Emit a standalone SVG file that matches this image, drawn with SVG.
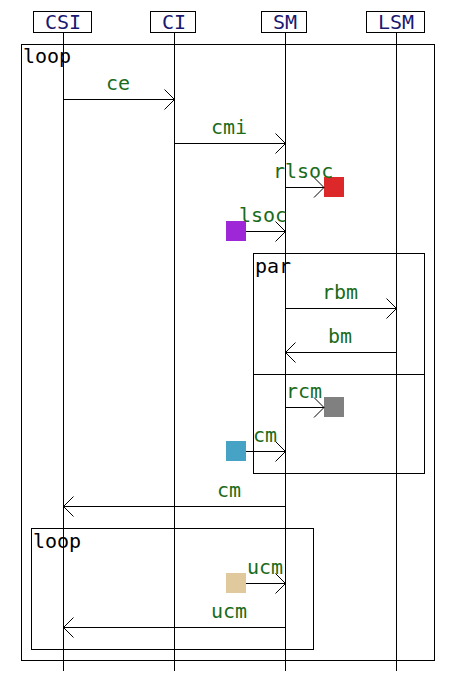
<svg xmlns="http://www.w3.org/2000/svg" width="455" height="682" viewBox="0 0 455 682">
<defs>
<marker id="open" viewBox="0 0 12 22" refX="11" refY="11" markerWidth="12" markerHeight="22" markerUnits="userSpaceOnUse" orient="auto">
<path d="M1,1 L11,11 L1,21" fill="none" stroke="#000" stroke-width="1"/>
</marker>
<style>
.actor rect{fill:#fff;stroke:#000;stroke-width:1}
.actor text{font-family:"DejaVu Sans Mono",monospace;font-size:20px;fill:#191970;text-anchor:middle}
.life{stroke:#000;stroke-width:1}
.frame{fill:none;stroke:#000;stroke-width:1}
.ftxt{font-family:"DejaVu Sans Mono",monospace;font-size:20px;fill:#000}
.msg{stroke:#000;stroke-width:1;fill:none;marker-end:url(#open)}
.lbl{font-family:"DejaVu Sans Mono",monospace;font-size:20px;fill:#1a6b1a}
.mid{text-anchor:middle}
</style>
</defs>
<rect width="455" height="682" fill="#fff"/>
<g id="lifelines">
<line class="life" x1="63.5" y1="32" x2="63.5" y2="671"/>
<line class="life" x1="174.5" y1="32" x2="174.5" y2="671"/>
<line class="life" x1="285.5" y1="32" x2="285.5" y2="671"/>
<line class="life" x1="396.5" y1="32" x2="396.5" y2="671"/>
</g>
<g id="actor-CSI" class="actor"><rect x="33.5" y="11.5" width="58" height="21"/><text x="63" y="29">CSI</text></g>
<g id="actor-CI" class="actor"><rect x="150.5" y="11.5" width="45" height="21"/><text x="174" y="29">CI</text></g>
<g id="actor-SM" class="actor"><rect x="261.5" y="11.5" width="45" height="21"/><text x="285" y="29">SM</text></g>
<g id="actor-LSM" class="actor"><rect x="366.5" y="11.5" width="58" height="21"/><text x="396" y="29">LSM</text></g>
<g id="frame-loop-outer"><rect class="frame" x="21.5" y="44.5" width="413" height="616"/><text class="ftxt" x="23" y="63">loop</text></g>
<g id="frame-par"><rect class="frame" x="253.5" y="253.5" width="171" height="220"/><line class="life" x1="253.5" y1="374.5" x2="424.5" y2="374.5"/><text class="ftxt" x="255" y="273">par</text></g>
<g id="frame-loop-inner"><rect class="frame" x="31.5" y="528.5" width="282" height="121"/><text class="ftxt" x="33" y="548">loop</text></g>
<g id="sq-red"><rect x="324" y="177" width="20" height="20" fill="#dc2828"/></g>
<g id="sq-purple"><rect x="226" y="221" width="20" height="20" fill="#9e28d8"/></g>
<g id="sq-gray"><rect x="324" y="397" width="20" height="20" fill="#808080"/></g>
<g id="sq-cyan"><rect x="226" y="441" width="20" height="20" fill="#46a3c6"/></g>
<g id="sq-tan"><rect x="226" y="573" width="20" height="20" fill="#e0c99c"/></g>
<g id="connectors">
<line class="msg" x1="63.5" y1="99.5" x2="174.5" y2="99.5"/>
<line class="msg" x1="174.5" y1="143.5" x2="285.5" y2="143.5"/>
<line class="msg" x1="285.5" y1="187.5" x2="324" y2="187.5"/>
<line class="msg" x1="246" y1="231.5" x2="285.5" y2="231.5"/>
<line class="msg" x1="285.5" y1="308.5" x2="396.5" y2="308.5"/>
<line class="msg" x1="396.5" y1="352.5" x2="285.5" y2="352.5"/>
<line class="msg" x1="285.5" y1="407.5" x2="324" y2="407.5"/>
<line class="msg" x1="246" y1="451.5" x2="285.5" y2="451.5"/>
<line class="msg" x1="285.5" y1="506.5" x2="63.5" y2="506.5"/>
<line class="msg" x1="246" y1="583.5" x2="285.5" y2="583.5"/>
<line class="msg" x1="285.5" y1="627.5" x2="63.5" y2="627.5"/>
</g>
<g id="labels">
<text class="lbl mid" x="118" y="90">ce</text>
<text class="lbl mid" x="229" y="134">cmi</text>
<text class="lbl" x="273" y="178">rlsoc</text>
<text class="lbl" x="239" y="222">lsoc</text>
<text class="lbl mid" x="340" y="299">rbm</text>
<text class="lbl mid" x="340" y="343">bm</text>
<text class="lbl" x="286" y="398">rcm</text>
<text class="lbl" x="253" y="442">cm</text>
<text class="lbl mid" x="229" y="497">cm</text>
<text class="lbl" x="247" y="574">ucm</text>
<text class="lbl mid" x="229" y="618">ucm</text>
</g>
</svg>
